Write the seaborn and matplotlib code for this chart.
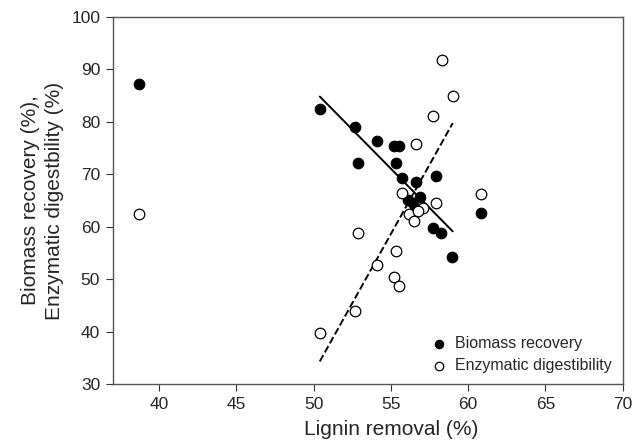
import numpy as np
import pandas as pd
import matplotlib as mpl
import matplotlib.pyplot as plt
import seaborn as sns

sns.set_style("ticks")
plt.rcParams['font.family'] = ['Liberation Sans', 'DejaVu Sans']

# lignin removal (%) and biomass recovery (%)
lignin_bio = [38.7, 50.4, 52.7, 52.9, 54.1, 55.2, 55.5, 55.3, 55.7, 56.6,
              57.95, 56.1, 56.9, 56.4, 56.55, 57.7, 58.25, 58.95, 60.8]
biomass = [87.2, 82.4, 78.9, 72.2, 76.3, 75.4, 75.3, 72.2, 69.3, 68.5,
           69.7, 65.1, 65.7, 64.5, 63.2, 59.8, 58.75, 54.3, 62.7]

# lignin removal (%) and enzymatic digestibility (%)
lignin_enz = [38.7, 50.4, 52.7, 52.9, 54.1, 55.2, 55.5, 55.3, 55.7, 56.6,
              57.95, 56.2, 57.05, 56.5, 56.75, 57.7, 58.3, 59.0, 60.8]
digest = [62.5, 39.7, 44.0, 58.9, 52.7, 50.4, 48.8, 55.4, 66.4, 75.8,
          64.6, 62.5, 63.6, 61.0, 62.9, 81.1, 91.8, 84.8, 66.2]

# range the fitted lines are drawn over
fit_range = [50.4, 59.0]

bio = pd.DataFrame({"x": lignin_bio, "y": biomass})
enz = pd.DataFrame({"x": lignin_enz, "y": digest})

fig = plt.figure(figsize=(6.42, 4.44), dpi=100)
ax = fig.add_axes([0.1755, 0.1345, 0.7945, 0.828])

# linear fits (outlier at 38.7 and point at 60.8 left out)
xs = np.array(fit_range)
for df, ls in [(bio, "-"), (enz, "--")]:
    sub = df[(df.x >= fit_range[0]) & (df.x <= fit_range[1] + 0.1)]
    k, b = np.polyfit(sub.x, sub.y, 1)
    sns.lineplot(x=xs, y=k * xs + b, ax=ax, color="black", lw=1.4,
                 linestyle=ls, dashes=False if ls == "-" else (5, 3))

sns.scatterplot(data=bio, x="x", y="y", ax=ax, s=58, color="black",
                edgecolor="black", linewidth=0.8, label="Biomass recovery", zorder=3)
sns.scatterplot(data=enz, x="x", y="y", ax=ax, s=58, facecolor="white",
                edgecolor="black", linewidth=0.9, label="Enzymatic digestibility", zorder=3)

ax.set_xlim(37, 70)
ax.set_ylim(30, 100)
ax.set_xticks([40, 45, 50, 55, 60, 65, 70])
ax.set_yticks([30, 40, 50, 60, 70, 80, 90, 100])
ax.tick_params(labelsize=12.5, direction="out", length=5, color="#333333", pad=4)
for s in ax.spines.values():
    s.set_color("#555555")
    s.set_linewidth(1.0)
ax.set_xlabel("Lignin removal (%)", fontsize=15)
ax.xaxis.set_label_coords(0.547, -0.097)
ax.set_ylabel("Biomass recovery (%),\nEnzymatic digestbility (%)", fontsize=15,
              linespacing=1.35)
ax.yaxis.set_label_coords(-0.095, 0.5)

leg = ax.legend(loc="lower right", frameon=False, fontsize=11.5, handletextpad=0.5,
                borderaxespad=0.3, labelspacing=0.45, handlelength=1.0,
                markerscale=0.8)

plt.savefig("out.png", dpi=100)
